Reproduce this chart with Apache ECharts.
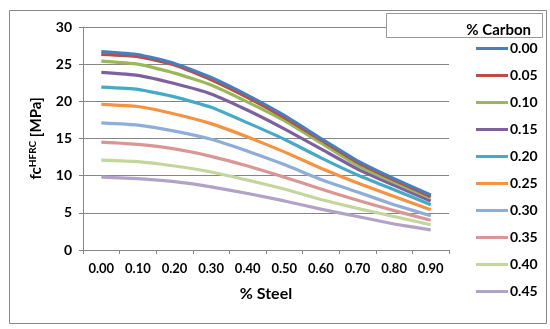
<!DOCTYPE html>
<html>
<head>
<meta charset="utf-8">
<script src="https://cdn.jsdelivr.net/npm/echarts@6/dist/echarts.min.js"></script>
<style>html,body{margin:0;padding:0;background:#fff;}#c{width:550px;height:329px;}</style>
</head>
<body>
<div id="c"></div>
<script>
const steel = ['0.00','0.10','0.20','0.30','0.40','0.50','0.60','0.70','0.80','0.90'];
const carbon = ['0.00','0.05','0.10','0.15','0.20','0.25','0.30','0.35','0.40','0.45'];
const c000 = [26.7, 26.3, 25.1, 23.2, 20.8, 18.1, 15.0, 12.0, 9.6, 7.4];
const c005 = [26.3, 26.0, 24.9, 22.9, 20.5, 17.8, 14.8, 11.8, 9.4, 7.2];
const c010 = [25.4, 25.0, 23.8, 22.2, 19.9, 17.4, 14.4, 11.4, 9.1, 7.0];
const c015 = [23.9, 23.5, 22.4, 21.0, 18.8, 16.3, 13.6, 10.9, 8.7, 6.6];
const c020 = [21.9, 21.6, 20.6, 19.2, 17.1, 14.9, 12.4, 10.1, 8.1, 6.1];
const c025 = [19.6, 19.3, 18.3, 17.0, 15.2, 13.2, 11.0, 9.0, 7.2, 5.4];
const c030 = [17.1, 16.8, 16.0, 14.9, 13.3, 11.5, 9.5, 7.8, 6.1, 4.6];
const c035 = [14.5, 14.2, 13.6, 12.6, 11.3, 9.8, 8.2, 6.7, 5.3, 4.0];
const c040 = [12.1, 11.9, 11.3, 10.5, 9.4, 8.2, 6.8, 5.6, 4.5, 3.4];
const c045 = [9.8, 9.6, 9.2, 8.5, 7.6, 6.6, 5.5, 4.5, 3.5, 2.7];
const yTicks = [0, 5, 10, 15, 20, 25, 30];

const seriesData = [c000, c005, c010, c015, c020, c025, c030, c035, c040, c045];
const colors = ['#4A7EBB','#BE4B48','#98B954','#7D60A0','#46AAC5','#F69240','#8EADD9','#D99694','#C3D69B','#B3A2C7'];
const FONT = 'Lato';

const chart = echarts.init(document.getElementById('c'), null, {renderer: 'canvas'});
chart.setOption({
  animation: false,
  color: colors,
  textStyle: {fontFamily: FONT},
  grid: {left: 83, right: 101, top: 27, bottom: 79},
  xAxis: {
    type: 'category',
    data: steel,
    boundaryGap: true,
    name: '% Steel',
    nameLocation: 'middle',
    nameGap: 36,
    nameTextStyle: {fontFamily: FONT, fontWeight: 'bold', fontSize: 16, color: '#000'},
    axisLine: {lineStyle: {color: '#868686', width: 1}},
    axisTick: {show: true, length: 4, lineStyle: {color: '#868686'}},
    axisLabel: {fontFamily: FONT, fontWeight: 'bold', fontSize: 13, color: '#000', margin: 12, interval: 0},
    splitLine: {show: false}
  },
  yAxis: {
    type: 'value',
    min: yTicks[0],
    max: yTicks[yTicks.length - 1],
    interval: 5,
    name: '{a|fc}{b|HFRC}{a| [MPa]}',
    nameLocation: 'middle',
    nameGap: 38,
    nameRotate: 90,
    nameTextStyle: {
      rich: {
        a: {fontFamily: FONT, fontWeight: 'bold', fontSize: 15, color: '#000', lineHeight: 17},
        b: {fontFamily: FONT, fontWeight: 'bold', fontSize: 10, color: '#000', verticalAlign: 'top', lineHeight: 17, padding: [0, 0, 6, 0]}
      }
    },
    axisLine: {show: true, lineStyle: {color: '#868686', width: 1}},
    axisTick: {show: true, length: 4, lineStyle: {color: '#868686'}},
    axisLabel: {fontFamily: FONT, fontWeight: 'bold', fontSize: 14, color: '#000', margin: 11},
    splitLine: {show: true, lineStyle: {color: '#868686', width: 1}}
  },
  legend: {
    orient: 'vertical',
    left: 471,
    top: 36,
    icon: 'rect',
    itemWidth: 32,
    itemHeight: 3,
    itemGap: 12,
    data: carbon,
    textStyle: {fontFamily: FONT, fontWeight: 'bold', fontSize: 14, color: '#000', lineHeight: 15, padding: [0, 0, 0, -3]}
  },
  series: seriesData.map((d, i) => ({
    name: carbon[i],
    type: 'line',
    data: d,
    smooth: 0.15,
    showSymbol: false,
    symbol: 'none',
    lineStyle: {width: 3.2, color: colors[i]},
    itemStyle: {color: colors[i]},
    z: 10 - i
  })),
  graphic: [
    {type: 'rect', shape: {x: 9.5, y: 10.5, width: 537, height: 313}, style: {fill: 'none', stroke: '#888', lineWidth: 1}, z: -1, silent: true},
    {type: 'rect', shape: {x: 386.5, y: 13.5, width: 156, height: 24}, style: {fill: '#fff', stroke: '#999', lineWidth: 1}, z: 100, silent: true},
    {type: 'text', x: 531, y: 30, style: {text: '% Carbon', fontFamily: FONT, fontWeight: 'bold', fontSize: 15, fill: '#000', align: 'right', verticalAlign: 'middle'}, z: 101, silent: true}
  ]
});
</script>
</body>
</html>
